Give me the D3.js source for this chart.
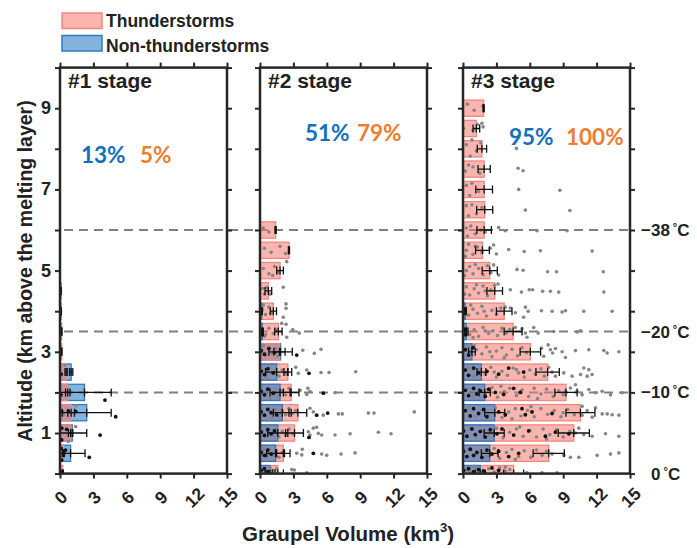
<!DOCTYPE html>
<html><head><meta charset="utf-8">
<script src="https://cdn.jsdelivr.net/npm/d3@7"></script>
<style>
body{margin:0;background:#fff}
text{font-family:"Liberation Sans",Arial,sans-serif;font-weight:bold;fill:#222}
</style>
</head><body>
<svg id="c" width="697" height="548"></svg>
<script>
// ---------------- DATA ----------------
const altitudes = [0,0.5,1,1.5,2,2.5,3,3.5,4,4.5,5,5.5,6,6.5,7,7.5,8,8.5,9];
const stages = ["#1 stage","#2 stage","#3 stage"];
const seriesNames = ["Thunderstorms","Non-thunderstorms"];
const pctNonThunder = ["13%","51%","95%"];
const pctThunder = ["5%","79%","100%"];
const xTicks = [0,3,6,9,12,15];
const yTicks = [0,1,2,3,4,5,6,7,8,9,10];
const yTickLabels = [1,3,5,7,9];
const isoAlt = [6,3.5,2,0];
const isoLabels = ["\u221238","\u221220","\u221210","0"];

// stage 1
const thunder1    = [0.25,0.3,0.95,1.0,0.7,0.55,0.15,0.15,0.12,0.12,0,0,0,0,0,0,0,0,0];
const thunderErr1 = [0.05,0.1,0.2,0.3,0.2,0.1,0,0,0,0,0,0,0,0,0,0,0,0,0];
const non1        = [0,0.95,1.1,2.4,2.2,1.0,0,0,0,0,0,0,0,0,0,0,0,0,0];
const nonErr1     = [0,1.3,1.3,2.2,2.4,0.15,0,0,0,0,0,0,0,0,0,0,0,0,0];
// stage 2
const thunder2    = [1.6,2.1,3.1,3.4,2.8,2.5,1.75,1.65,1.2,0.75,1.8,2.6,1.4,0,0,0,0,0,0];
const thunderErr2 = [0.5,0.6,0.8,0.8,0.7,0.35,0.5,0.33,0.28,0.3,0.3,0.05,0.05,0,0,0,0,0,0];
const non2        = [0.9,1.4,1.6,2.0,1.8,1.5,1.85,0.2,0.15,0,0,0,0,0,0,0,0,0,0];
const nonErr2     = [0.45,0.8,0.9,0.8,0.9,1.0,1.05,0.1,0.05,0,0,0,0,0,0,0,0,0,0];
// stage 3
const thunder3    = [4.55,7.7,9.95,10.55,9.25,7.6,6.05,4.5,3.7,2.85,2.4,1.75,1.9,1.95,1.9,1.9,1.7,1.2,1.85];
const thunderErr3 = [0.9,1.4,1.4,1.3,1.0,1.05,0.92,0.8,0.7,0.7,0.68,0.62,0.65,0.72,0.75,0.55,0.42,0.3,0.05];
const non3        = [1.55,2.4,2.8,2.85,1.95,1.65,0.8,0.3,0.2,0,0,0,0,0,0,0,0,0,0];
const nonErr3     = [0.45,0.75,0.9,0.9,0.5,0.4,0.3,0.15,0.1,0,0,0,0,0,0,0,0,0,0];

// individual cases [volume, altitude]
const gray1 = [[1.0,2.0],[1.41,1.67],[1.41,1.16],[0.75,0.79],[0.45,2.67],[0.05,0.05],[0.05,3.0],[0.05,3.5],[0.05,4.0],[0.05,4.5],[0.3,1.45],[0.4,0.5]];
const black1 = [[4.04,1.81],[5.0,1.40],[3.6,0.95],[2.63,0.40],[0.09,1.94],[0.15,1.53],[0.75,1.54],[1.41,1.53],[0.15,1.12],[0.6,1.09],[0.15,0.83],[0.09,0.62],[0.15,0.33],[0.5,0.58],[0.1,2.45],[0.1,0.05]];

const gray2 = [
 [2.4,5.22],[1.14,4.88],[2.09,4.59],[0.9,4.42],[0.24,4.56],[2.34,4.18],[2.34,4.07],[2.09,3.85],[2.34,3.68],[1.95,3.7],[2.94,3.55],[3.53,3.46],[2.4,3.36],
 [3.84,3.04],[4.88,2.96],[5.48,3.06],
 [3.21,2.62],[3.44,2.47],[4.2,2.55],[5.48,2.49],[6.2,2.49],[8.6,2.51],
 [4.49,2.02],[6.74,1.99],[4.3,2.1],[4.2,1.95],[3.6,2.05],
 [4.49,1.61],[4.79,1.52],[5.69,1.44],[7.04,1.47],[7.39,1.47],[9.73,1.49],[10.24,1.49],[13.86,1.52],
 [4.34,1.03],[4.79,1.12],[5.09,1.14],[4.49,0.95],[5.24,0.99],[5.54,0.95],[6.74,0.95],[8.09,0.98],[10.63,1.02],[11.77,0.98],
 [3.3,0.5],[3.8,0.6],[3.75,0.46],[5.54,0.48],[5.99,0.45],[7.28,0.48],[8.54,0.51],
 [2.85,0.1],[3.08,0.09],[4.2,0.02],
 [0.2,0.1],[0.5,0.05],[0.9,0.15],[1.2,0.08],[1.5,0.12],
 [0.2,0.55],[0.5,0.42],[0.8,0.6],[1.1,0.45],[1.4,0.56],[1.7,0.4],[2.0,0.52],[0.35,0.62],
 [0.2,1.05],[0.5,0.92],[0.8,1.1],[1.1,0.95],[1.4,1.08],[1.7,0.9],[2.0,1.04],[2.3,0.94],[2.6,1.1],[2.9,0.98],[0.6,1.15],
 [0.2,1.55],[0.5,1.42],[0.8,1.6],[1.1,1.46],[1.4,1.58],[1.7,1.4],[2.0,1.55],[2.3,1.45],[2.6,1.6],[2.9,1.48],[3.2,1.55],[1.0,1.36],
 [0.2,2.05],[0.5,1.92],[0.8,2.1],[1.1,1.95],[1.4,2.08],[1.7,1.9],[2.0,2.04],[2.3,1.94],[2.6,2.1],[0.9,1.85],
 [0.2,2.55],[0.5,2.42],[0.8,2.6],[1.1,2.46],[1.4,2.58],[1.7,2.4],[2.0,2.55],[2.3,2.45],[0.6,2.35],
 [0.2,3.05],[0.5,2.92],[0.8,3.1],[1.1,2.96],[1.4,3.08],[1.6,2.9],[0.3,3.15],
 [0.2,3.55],[0.5,3.42],[0.8,3.58],[1.2,3.45],[1.5,3.55],[0.4,3.38],
 [0.2,4.05],[0.5,3.92],[0.8,4.1],[1.0,3.95],[0.3,4.15],
 [0.4,4.42],[0.6,4.58],
 [0.3,5.05],[0.8,4.92],[1.3,5.1],[1.6,4.95],
 [0.4,5.55],[1.0,5.45],[1.8,5.6],[2.3,5.42],
 [0.3,6.05],[0.8,5.95]
];
const black2 = [
 [0.1,0.08],[0.4,0.12],[0.7,0.05],
 [0.1,0.52],[0.4,0.45],[0.7,0.58],[1.0,0.48],[4.79,0.5],
 [0.1,1.02],[0.4,0.94],[0.7,1.08],[1.0,0.98],[1.3,1.05],[4.4,0.89],
 [0.1,1.52],[0.4,1.44],[0.7,1.58],[1.0,1.5],[1.5,1.45],[5.09,1.44],[6.08,1.49],
 [0.1,2.02],[0.4,1.94],[0.7,2.08],[1.2,1.98],[5.69,1.98],
 [0.1,2.52],[0.4,2.44],[0.7,2.58],[1.2,2.48],[4.4,2.47],
 [0.1,3.02],[0.4,2.94],[0.8,3.08],[1.3,2.98],[3.3,2.92],
 [0.1,3.5],[0.2,3.42],[0.1,4.0]
];

const gray3 = [
 [1.8,9.05],[1.0,8.95],[0.4,9.1],
 [1.7,8.63],[1.8,8.54],[0.05,8.5],[0.9,8.45],[1.3,8.6],
 [4.8,8.01],[0.8,8.22],[0.65,7.82],[0.3,8.1],[1.2,7.95],[1.6,8.15],
 [4.95,7.52],[5.4,7.46],[0.5,7.6],[0.9,7.55],[1.5,7.4],[0.2,7.45],
 [5.0,7.0],[8.7,6.98],[0.3,7.1],[0.8,7.15],[1.4,6.95],[0.6,6.85],
 [5.6,6.49],[9.6,6.48],[0.3,6.6],[0.8,6.62],[1.2,6.4],[1.7,6.55],[0.5,6.35],
 [3.2,6.06],[3.8,5.98],[6.65,5.98],[9.35,5.98],[0.3,6.05],[0.4,5.85],[0.7,6.1],[1.1,5.9],[1.6,6.0],[2.0,5.95],
 [2.75,5.63],[2.45,5.55],[3.0,5.41],[4.1,5.52],[5.5,5.47],[6.95,5.49],[11.6,5.48],[0.3,5.5],[0.5,5.65],[0.9,5.4],[1.3,5.58],[1.7,5.45],[0.2,5.35],[1.1,5.6],
 [2.75,5.14],[4.85,5.03],[5.4,5.01],[7.6,4.97],[8.4,4.97],[12.6,4.97],[3.2,4.89],[0.3,5.0],[0.6,5.1],[0.9,4.92],[1.4,5.05],[1.8,4.9],[2.2,5.12],[0.15,4.88],[1.1,5.15],[2.5,4.95],
 [2.85,4.64],[3.15,4.67],[4.25,4.53],[5.25,4.47],[5.95,4.53],[6.25,4.53],[7.15,4.49],[7.85,4.49],[8.6,4.47],[12.65,4.47],
 [0.3,4.6],[0.6,4.4],[1.0,4.55],[1.4,4.45],[1.8,4.62],[2.2,4.38],[2.5,4.52],[0.15,4.42],[1.2,4.65],[2.0,4.5],
 [3.8,4.1],[4.25,4.08],[4.7,3.96],[5.6,4.1],[5.85,4.0],[7.05,4.01],[8.0,4.0],[8.9,3.98],[9.2,4.01],[10.85,4.0],[13.4,4.0],[5.45,3.85],
 [0.2,4.1],[0.5,3.9],[0.9,4.05],[1.3,3.95],[1.7,4.12],[2.1,3.88],[2.6,4.02],[3.0,3.92],[3.4,4.08],[0.7,4.15],[1.9,4.0],
 [4.7,3.6],[5.3,3.57],[5.6,3.46],[5.75,3.36],[6.35,3.6],[10.25,3.49],[10.55,3.52],[8.15,3.5],[6.75,3.46],
 [0.3,3.58],[0.6,3.42],[1.0,3.55],[1.4,3.38],[1.8,3.6],[2.3,3.45],[2.7,3.52],[3.1,3.4],[3.5,3.58],[3.9,3.46],[4.2,3.55],[0.9,3.35],[2.0,3.52],
 [7.05,3.09],[7.65,3.17],[7.85,3.05],[8.05,2.97],[8.3,3.08],[7.25,2.89],[8.9,3.0],[10.1,3.03],[11.3,3.05],[12.65,3.03],[12.95,2.97],[14.0,3.0],[9.2,2.86],
 [0.4,3.1],[0.8,2.9],[1.2,3.05],[1.7,2.95],[2.1,3.12],[2.6,2.88],[3.0,3.02],[3.5,3.1],[3.9,2.92],[4.4,3.06],[4.9,2.9],[5.3,3.1],[5.7,2.98],[1.0,3.15],[2.4,3.0],[3.7,2.85],
 [7.7,2.62],[8.0,2.5],[9.05,2.48],[9.8,2.4],[10.55,2.44],[10.85,2.6],[11.3,2.56],[11.6,2.44],[11.15,2.4],[8.3,2.4],
 [0.5,2.6],[1.0,2.4],[1.5,2.55],[2.0,2.45],[2.5,2.62],[3.0,2.38],[3.5,2.52],[4.0,2.42],[4.5,2.6],[5.0,2.48],[5.5,2.38],[6.0,2.55],[6.5,2.45],[7.0,2.58],[7.3,2.4],[2.8,2.5],[4.8,2.56],
 [9.2,2.03],[9.65,2.11],[10.25,2.03],[11.3,2.07],[11.9,1.99],[12.5,2.03],[13.25,1.94],[14.3,1.99],[10.7,1.94],[10.1,2.19],
 [0.4,2.1],[0.9,1.9],[1.4,2.05],[2.0,1.95],[2.6,2.12],[3.1,1.88],[3.7,2.02],[4.2,2.1],[4.8,1.92],[5.3,2.06],[5.9,1.9],[6.4,2.1],[7.0,1.96],[7.5,2.08],[8.1,1.9],[8.6,2.04],[9.0,1.94],[3.4,2.15],[6.7,1.85],
 [10.7,1.66],[11.15,1.55],[11.9,1.62],[12.5,1.47],[12.95,1.47],[13.4,1.45],[14.0,1.44],[11.6,1.39],[10.7,1.44],
 [0.5,1.6],[1.1,1.4],[1.7,1.55],[2.3,1.45],[2.9,1.62],[3.5,1.38],[4.1,1.52],[4.7,1.6],[5.2,1.42],[5.8,1.56],[6.4,1.4],[7.0,1.6],[7.6,1.46],[8.2,1.55],[8.8,1.4],[9.4,1.58],[10.0,1.45],[4.4,1.35],[6.1,1.65],[9.0,1.5],
 [10.1,1.0],[10.85,0.96],[11.6,0.92],[12.8,0.98],[14.0,0.92],[10.4,1.12],
 [0.6,1.1],[1.2,0.9],[1.8,1.05],[2.4,0.95],[3.0,1.12],[3.6,0.88],[4.2,1.02],[4.8,1.1],[5.4,0.92],[6.0,1.06],[6.6,0.9],[7.2,1.1],[7.8,0.96],[8.4,1.08],[9.0,0.9],[9.6,1.04],[5.1,1.15],[7.5,0.85],
 [8.0,0.48],[9.05,0.45],[9.65,0.4],[10.4,0.4],[12.05,0.45],[13.25,0.48],[14.0,0.51],
 [0.5,0.6],[1.0,0.4],[1.6,0.55],[2.2,0.42],[2.8,0.62],[3.3,0.38],[3.9,0.52],[4.4,0.6],[5.0,0.42],[5.5,0.56],[6.1,0.4],[6.6,0.58],[7.1,0.45],[7.5,0.55],[4.7,0.35],[2.5,0.5],
 [3.8,0.06],[5.75,0.02],[7.1,0.02],[8.45,0.02],
 [0.3,0.1],[0.8,0.05],[1.3,0.15],[1.8,0.08],[2.3,0.12],[2.8,0.04],[3.3,0.14],[3.8,0.16],[4.2,0.1],[1.0,0.18],[2.0,0.02]
];
const black3 = [
 [0.2,2.55],[0.5,2.42],[0.95,2.6],[1.4,2.48],[2.15,2.52],[3.2,2.45],[4.1,2.6],[5.45,2.5],
 [0.2,3.05],[0.5,2.92],[0.9,3.1],
 [0.15,3.55],[0.25,3.42],[0.1,4.05],
 [0.2,2.05],[0.5,1.92],[0.95,2.1],[1.25,1.96],[1.55,2.04],[2.0,1.9],[2.3,2.08],[2.9,2.0],[3.65,1.95],[4.55,2.1],[5.15,2.0],
 [0.2,1.55],[0.65,1.42],[0.95,1.6],[1.4,1.48],[1.85,1.58],[2.15,1.4],[3.2,1.52],[3.8,1.45],[5.3,1.6],[5.6,1.45],[6.2,1.52],[8.0,1.48],
 [0.05,1.05],[0.35,0.92],[0.8,1.1],[1.1,0.96],[1.55,1.04],[2.0,0.9],[2.45,1.08],[3.05,0.98],[3.5,1.1],[4.55,0.95],[5.9,1.05],[7.4,0.92],[8.3,1.02],[9.5,0.98],
 [0.05,0.55],[0.35,0.42],[0.65,0.6],[0.95,0.45],[1.25,0.52],[1.7,0.4],[2.15,0.58],[2.6,0.48],[3.2,0.55],[4.1,0.42],[5.0,0.5],
 [0.05,0.08],[0.5,0.12],[0.95,0.04],[1.4,0.1],[1.85,0.06],[2.6,0.14],[3.2,0.08]
];

const panels = [
 {title:stages[0], thunder:thunder1, tErr:thunderErr1, non:non1, nErr:nonErr1, gray:gray1, black:black1, pN:pctNonThunder[0], pT:pctThunder[0]},
 {title:stages[1], thunder:thunder2, tErr:thunderErr2, non:non2, nErr:nonErr2, gray:gray2, black:black2, pN:pctNonThunder[1], pT:pctThunder[1]},
 {title:stages[2], thunder:thunder3, tErr:thunderErr3, non:non3, nErr:nonErr3, gray:gray3, black:black3, pN:pctNonThunder[2], pT:pctThunder[2]}
];

// ---------------- LAYOUT / STYLE ----------------
const pinkFill = "rgba(248,120,110,0.55)", pinkStroke = "#f3867f";
const blueFill = "rgba(20,110,190,0.52)", blueStroke = "#2f7dc0";
const axisColor = "#262626";
const panelLefts = [60,260,463], pw = 167;
const yTop = 67.6, yBot = 473.6;
const pctPos = [[21,80,163],[45,97,141],[46,103,145]];

const svg = d3.select("#c");
const y = d3.scaleLinear().domain([0,10]).range([yBot,yTop]);
const xs = panelLefts.map(l => d3.scaleLinear().domain([0,15]).range([l,l+pw]));

// dashed isotherm lines
isoAlt.slice(0,3).forEach(a=>{
  svg.append("line").attr("x1",panelLefts[0]+4).attr("x2",panelLefts[2]+pw)
    .attr("y1",y(a)).attr("y2",y(a))
    .attr("stroke","#808080").attr("stroke-width",2).attr("stroke-dasharray","9,6");
});

panels.forEach((P,pi)=>{
  const x = xs[pi], L = panelLefts[pi];
  const g = svg.append("g");
  const cid = "clip"+pi;
  svg.append("clipPath").attr("id",cid).append("rect")
    .attr("x",L).attr("y",yTop).attr("width",pw).attr("height",yBot-yTop);
  const inner = g.append("g").attr("clip-path",`url(#${cid})`);
  const half = 0.2;
  // bars: larger first, smaller on top
  altitudes.forEach((a,i)=>{
    const items = [
      {v:P.thunder[i], fill:pinkFill, stroke:pinkStroke},
      {v:P.non[i], fill:blueFill, stroke:blueStroke}
    ].filter(d=>d.v>0).sort((p,q)=>q.v-p.v);
    items.forEach(d=>{
      inner.append("rect").attr("x",x(0)).attr("y",y(a+half))
        .attr("width",x(d.v)-x(0)).attr("height",y(a-half)-y(a+half))
        .attr("fill",d.fill).attr("stroke",d.stroke).attr("stroke-width",1.3);
    });
  });
  // dots
  inner.selectAll(".g").data(P.gray).enter().append("circle")
    .attr("cx",d=>x(d[0])).attr("cy",d=>y(d[1])).attr("r",1.8).attr("fill","#858585");
  inner.selectAll(".b").data(P.black).enter().append("circle")
    .attr("cx",d=>x(d[0])).attr("cy",d=>y(d[1])).attr("r",1.9).attr("fill","#111");
  // error bars
  const eb = (v,e,a)=>{
    if(v<=0) return;
    const yy = y(a), c=4;
    const x1 = x(Math.max(v-e, -0.3)), x2 = x(v+e);
    inner.append("line").attr("x1",x1).attr("x2",x2).attr("y1",yy).attr("y2",yy);
    [x1,x2,x(v)].forEach(xx=>inner.append("line").attr("x1",xx).attr("x2",xx).attr("y1",yy-c).attr("y2",yy+c));
  };
  altitudes.forEach((a,i)=>{ eb(P.non[i],P.nErr[i],a); eb(P.thunder[i],P.tErr[i],a); });
  inner.selectAll("line").attr("stroke","#111").attr("stroke-width",1.3);

  // axes ticks (outward on all sides)
  const ax = (gen,tr)=>{
    const a = g.append("g").attr("transform",tr).call(gen);
    a.select(".domain").remove();
    a.selectAll(".tick line").attr("stroke",axisColor).attr("stroke-width",2);
    return a;
  };
  ax(d3.axisBottom(x).tickValues(xTicks).tickSize(5).tickFormat(""),`translate(0,${yBot})`);
  ax(d3.axisTop(x).tickValues(xTicks).tickSize(5).tickFormat(""),`translate(0,${yTop})`);
  ax(d3.axisLeft(y).tickValues(yTicks).tickSize(5).tickFormat(""),`translate(${L},0)`);
  ax(d3.axisRight(y).tickValues(yTicks).tickSize(5).tickFormat(""),`translate(${L+pw},0)`);
  g.append("rect").attr("x",L).attr("y",yTop).attr("width",pw).attr("height",yBot-yTop)
    .attr("fill","none").attr("stroke",axisColor).attr("stroke-width",2.5);

  // x tick labels rotated
  xTicks.forEach(t=>{
    g.append("text").attr("transform",`translate(${x(t)+1},${yBot+24}) rotate(-45)`)
      .attr("text-anchor","middle").attr("dominant-baseline","central")
      .style("font-size","17.5px").text(t);
  });
  // title
  g.append("text").attr("x",L+8).attr("y",88).style("font-size","21px").text(P.title);
  // percentages
  const pp = pctPos[pi];
  g.append("text").attr("x",L+pp[0]).attr("y",pp[2]).style("font-family","Lato, 'Open Sans', sans-serif")
    .style("font-size","22.5px").style("fill","#1070c0").text(P.pN);
  g.append("text").attr("x",L+pp[1]).attr("y",pp[2]).style("font-family","Lato, 'Open Sans', sans-serif")
    .style("font-size","22.5px").style("fill","#ee7d31").text(P.pT);
});

// y tick labels (panel 1)
yTickLabels.forEach(t=>{
  svg.append("text").attr("x",panelLefts[0]-9).attr("y",y(t)).attr("text-anchor","end")
    .attr("dominant-baseline","central").style("font-size","18px").text(t);
});
// y axis label
svg.append("text").attr("transform",`translate(25,${271}) rotate(-90)`)
  .attr("text-anchor","middle").attr("dominant-baseline","central").style("font-size","19.5px")
  .text("Altitude (km above the melting layer)");
// x axis label
const xl = svg.append("text").attr("x",348).attr("y",541).attr("text-anchor","middle").style("font-size","20.5px");
xl.append("tspan").text("Graupel Volume (km");
xl.append("tspan").attr("dy",-9).style("font-size","13px").text("3");
xl.append("tspan").attr("dy",9).text(")");

// isotherm labels
isoAlt.forEach((a,i)=>{
  const t = svg.append("text").attr("x", i===3 ? 651 : 641).attr("y",y(a)).attr("dominant-baseline","central").style("font-size","17px");
  t.append("tspan").text(isoLabels[i]);
  t.append("tspan").attr("dx",3).attr("dy",-3).style("font-size","11px").text("\u00b0");
  t.append("tspan").attr("dy",3).text("C");
});

// legend
const leg = [[pinkFill,pinkStroke],[blueFill,blueStroke]];
seriesNames.forEach((n,i)=>{
  svg.append("rect").attr("x",62).attr("y",13+i*22.5).attr("width",40).attr("height",15.5)
    .attr("fill",leg[i][0]).attr("stroke",leg[i][1]).attr("stroke-width",1.5);
  svg.append("text").attr("x",106).attr("y",27+i*25).style("font-size","17.5px").text(n);
});
</script>
</body></html>
